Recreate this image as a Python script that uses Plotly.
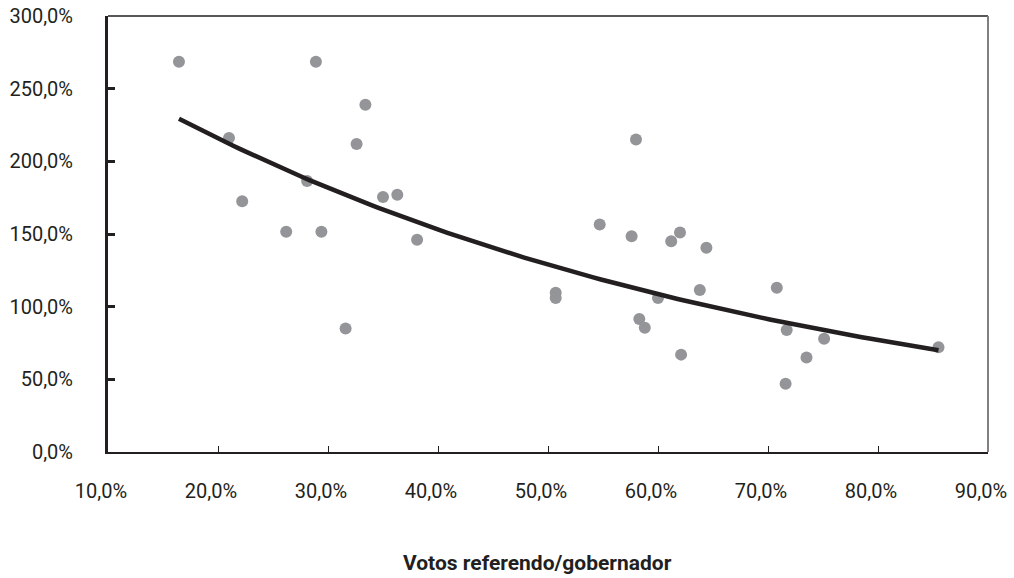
import numpy as np
import plotly.graph_objects as go

# Votos referendo/gobernador (%) vs. y value (%)
x_vals = [16.45, 21.0, 22.2, 26.2, 28.1, 28.9, 29.4, 31.6, 32.6, 33.4, 35.0, 36.3, 38.1,
          50.7, 50.7, 54.7, 57.6, 58.0, 58.3, 58.8, 60.0, 61.2, 62.0, 62.1, 63.8, 64.4,
          70.8, 71.7, 71.6, 73.5, 75.1, 85.5]
y_vals = [268.5, 216.0, 172.5, 151.5, 186.5, 268.5, 151.5, 85.0, 212.0, 239.0, 175.5, 177.0, 146.0,
          109.5, 106.0, 156.5, 148.5, 215.0, 91.5, 85.5, 106.0, 145.0, 151.0, 67.0, 111.5, 140.5,
          113.0, 84.0, 47.0, 65.0, 78.0, 72.0]

x_ticks = [10, 20, 30, 40, 50, 60, 70, 80, 90]
y_ticks = [0, 50, 100, 150, 200, 250, 300]
x_ticktext = ["10,0%", "20,0%", "30,0%", "40,0%", "50,0%", "60,0%", "70,0%", "80,0%", "90,0%"]
y_ticktext = ["0,0%", "50,0%", "100,0%", "150,0%", "200,0%", "250,0%", "300,0%"]

# Exponential trendline (least squares on log y, as a spreadsheet trendline does)
xa = np.array(x_vals)
ya = np.array(y_vals)
b, ln_a = np.polyfit(xa, np.log(ya), 1)
x_fit = np.linspace(xa.min(), xa.max(), 100)
y_fit = np.exp(ln_a) * np.exp(b * x_fit)

ink = "#231f20"
font_main = "Liberation Sans Narrow, Arial Narrow, Roboto, sans-serif"

fig = go.Figure()
fig.add_trace(go.Scatter(
    x=x_vals, y=y_vals, mode="markers",
    marker=dict(color="#939598", size=12, line=dict(width=0)),
    showlegend=False, hoverinfo="skip"))
fig.add_trace(go.Scatter(
    x=x_fit, y=y_fit, mode="lines",
    line=dict(color=ink, width=4.5),
    showlegend=False, hoverinfo="skip"))

# Frame lines: top and right
fig.add_shape(type="line", xref="paper", yref="paper", x0=0, x1=1, y0=1, y1=1,
              line=dict(color=ink, width=1.5))
fig.add_shape(type="line", xref="paper", yref="paper", x0=1, x1=1, y0=0, y1=1,
              line=dict(color="#808080", width=2))

fig.add_annotation(text="<b>Votos referendo/gobernador</b>", xref="paper", yref="paper",
                   x=0.4875, y=-0.2546, xanchor="center", yanchor="middle", showarrow=False,
                   font=dict(family=font_main, size=21, color=ink))

fig.update_layout(
    width=1014, height=578,
    margin=dict(l=108, r=26, t=16, b=126, autoexpand=False),
    paper_bgcolor="white", plot_bgcolor="white",
    font=dict(family=font_main, size=20, color=ink),
)
fig.update_xaxes(
    range=[10, 90], tickmode="array", tickvals=x_ticks, ticktext=x_ticktext,
    showgrid=False, zeroline=False, automargin=False,
    showline=True, linecolor=ink, linewidth=1.5,
    ticks="inside", ticklen=6, tickwidth=1, tickcolor=ink,
    ticklabelstandoff=20, ticklabelshift=-7,
    tickfont=dict(family=font_main, size=20, color=ink),
)
fig.update_yaxes(
    range=[0, 300], tickmode="array", tickvals=y_ticks, ticktext=y_ticktext,
    showgrid=False, zeroline=False, automargin=False,
    showline=True, linecolor=ink, linewidth=3,
    ticks="inside", ticklen=7, tickwidth=2.5, tickcolor=ink,
    ticklabelstandoff=28,
    tickfont=dict(family=font_main, size=20, color=ink),
)

fig.write_html("out.html", config={"displayModeBar": False},
               post_script="document.body.style.margin='0';document.body.style.padding='0';")
